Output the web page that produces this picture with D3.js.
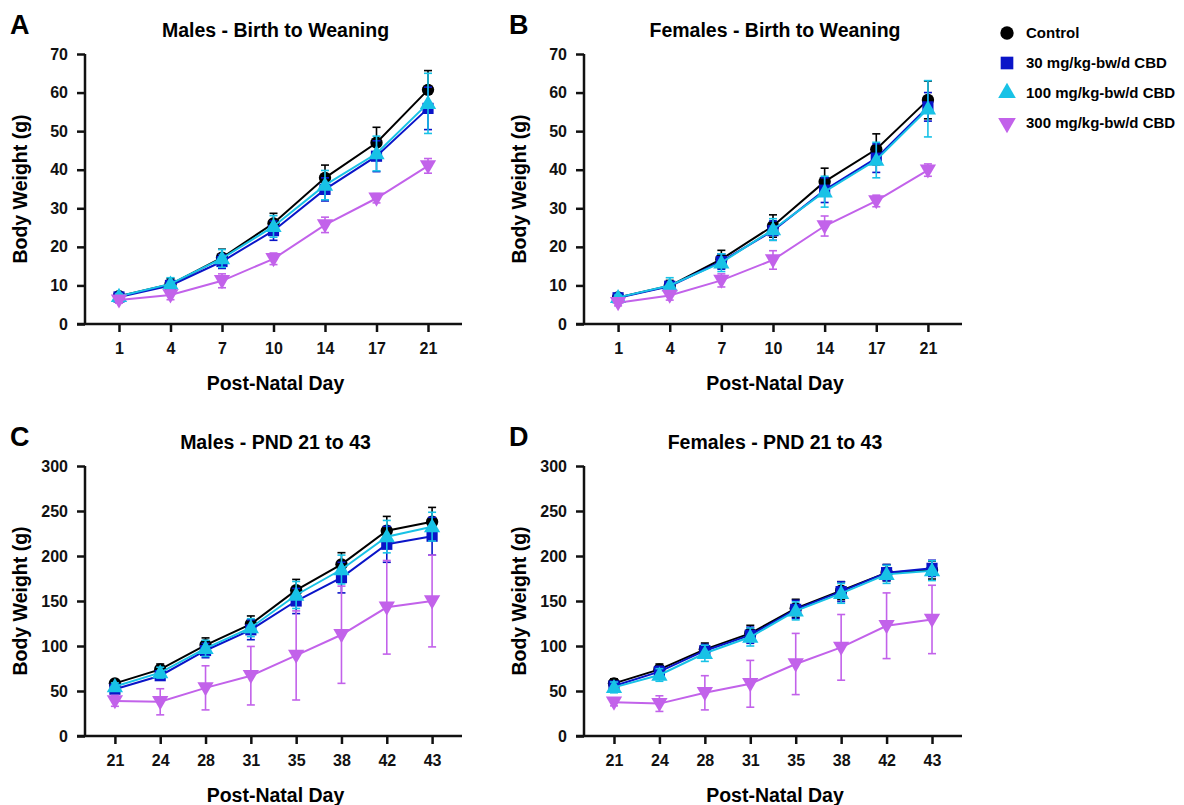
<!DOCTYPE html>
<html>
<head>
<meta charset="utf-8">
<script src="https://cdn.jsdelivr.net/npm/d3@7"></script>
<style>
  body { margin: 0; background: #fff; }
  svg { font-family: "Liberation Sans", Arial, Helvetica, sans-serif; font-weight: bold; }
  .axis path, .axis line { stroke: #111; stroke-width: 2.5; }
  .axis text { font-size: 16px; font-weight: bold; fill: #111; font-family: "Liberation Sans", Arial, sans-serif; }
</style>
</head>
<body>
<svg id="chart" width="1184" height="805"></svg>
<script>
// groups
const groups = ['Control', '30 mg/kg-bw/d CBD', '100 mg/kg-bw/d CBD', '300 mg/kg-bw/d CBD']
const colors = ['#000000', '#0a14c8', '#18c2e6', '#c262ea']

// x categories
const daysBirth = ['1', '4', '7', '10', '14', '17', '21']
const daysJuv = ['21', '24', '28', '31', '35', '38', '42', '43']

// y ticks
const ticksBirth = [0, 10, 20, 30, 40, 50, 60, 70]
const ticksJuv = [0, 50, 100, 150, 200, 250, 300]

// A - males, birth to weaning (mean, SD) ; rows = groups
const maleBirthMean = [
    [7.2, 10.3, 17.2, 26.1, 37.9, 47.0, 60.7],
    [7.0, 10.0, 16.2, 24.2, 34.9, 43.5, 55.9],
    [7.2, 10.4, 17.0, 25.3, 36.0, 44.2, 57.2],
    [6.2, 7.5, 11.2, 16.9, 25.7, 32.6, 41.0]
]
const maleBirthSd = [
    [0.6, 1.5, 2.2, 2.6, 3.3, 4.0, 5.0],
    [0.6, 1.3, 1.8, 2.5, 3.0, 4.0, 5.5],
    [0.6, 1.6, 2.3, 2.8, 3.8, 4.5, 7.8],
    [0.8, 1.2, 1.8, 1.5, 2.0, 1.2, 1.9]
]

// B - females, birth to weaning
const femaleBirthMean = [
    [6.9, 9.9, 16.8, 25.4, 36.9, 45.3, 58.1],
    [6.8, 9.8, 16.2, 24.2, 34.7, 43.0, 56.3],
    [6.9, 10.0, 15.9, 24.5, 34.3, 42.5, 55.8],
    [5.5, 7.4, 11.3, 16.6, 25.4, 31.9, 39.9]
]
const femaleBirthSd = [
    [0.6, 1.4, 2.3, 2.9, 3.5, 4.0, 4.9],
    [0.6, 1.2, 2.0, 2.5, 3.2, 3.7, 3.7],
    [0.6, 2.0, 2.3, 2.8, 4.0, 4.6, 7.3],
    [0.8, 1.2, 1.7, 2.4, 2.6, 1.5, 1.6]
]

// C - males, PND 21 to 43
const maleJuvMean = [
    [58.5, 74, 101, 124.4, 162, 190.7, 228, 238],
    [52, 67, 95, 118, 150, 176, 213, 222],
    [55, 70.4, 97.4, 120.4, 156.7, 185, 221.5, 232.6],
    [39, 38, 53.5, 67, 89.5, 112.5, 143, 150]
]
const maleJuvSd = [
    [4, 6, 8, 9, 12, 13, 16, 16],
    [4, 5, 8, 11, 14, 17, 20, 21],
    [4, 6, 9, 10, 15, 16, 18, 16],
    [6, 14.5, 24.5, 32.5, 49.5, 54, 52, 51]
]

// D - females, PND 21 to 43
const femaleJuvMean = [
    [58.5, 74, 96.3, 114, 141.9, 161.5, 181.5, 184.4],
    [55.5, 71.5, 94.8, 112, 140.7, 160.4, 181.5, 186.3],
    [54, 67.8, 91.9, 110, 139, 158.5, 179.6, 183.7],
    [37.5, 36, 48, 58, 80, 98.5, 122.5, 129.5]
]
const femaleJuvSd = [
    [5, 6, 7, 9, 10, 10, 9, 10],
    [5, 6, 7, 9, 10, 11, 9, 9],
    [6, 7, 9, 10, 10, 11, 10, 11],
    [4, 8.7, 19, 26, 34, 36.5, 36.5, 38]
]

const panels = [
    { letter: 'A', title: 'Males - Birth to Weaning', x0: 85, x1: 462, y0: 54, y1: 324, days: daysBirth, ticks: ticksBirth, mean: maleBirthMean, sd: maleBirthSd },
    { letter: 'B', title: 'Females - Birth to Weaning', x0: 584, x1: 962, y0: 54, y1: 324, days: daysBirth, ticks: ticksBirth, mean: femaleBirthMean, sd: femaleBirthSd },
    { letter: 'C', title: 'Males - PND 21 to 43', x0: 85, x1: 462, y0: 466, y1: 736, days: daysJuv, ticks: ticksJuv, mean: maleJuvMean, sd: maleJuvSd },
    { letter: 'D', title: 'Females - PND 21 to 43', x0: 584, x1: 962, y0: 466, y1: 736, days: daysJuv, ticks: ticksJuv, mean: femaleJuvMean, sd: femaleJuvSd }
]

const svg = d3.select('#chart')

const symbols = [
    d3.symbol().type(d3.symbolCircle).size(120),
    d3.symbol().type(d3.symbolSquare).size(125),
    d3.symbol().type(d3.symbolTriangle).size(115),
    d3.symbol().type(d3.symbolTriangle).size(115)
]
const legendSymbols = [
    d3.symbol().type(d3.symbolCircle).size(140),
    d3.symbol().type(d3.symbolSquare).size(160),
    d3.symbol().type(d3.symbolTriangle).size(135),
    d3.symbol().type(d3.symbolTriangle).size(135)
]
const symRot = [0, 0, 0, 180]

panels.forEach(p => {
    let xScale = d3.scalePoint()
        .domain(p.days)
        .range([p.x0, p.x1])
        .padding(0.66)

    let yScale = d3.scaleLinear()
        .domain([0, d3.max(p.ticks)])
        .range([p.y1, p.y0])

    // axes
    let yAxis = d3.axisLeft(yScale).tickValues(p.ticks).tickSize(8).tickPadding(9).tickSizeOuter(0)
    let xAxis = d3.axisBottom(xScale).tickSize(8).tickPadding(11).tickSizeOuter(0)

    svg.append('g')
        .attr('class', 'axis')
        .attr('transform', `translate(${p.x0}, 0)`)
        .call(yAxis)
        .call(g => g.select('.domain').remove())
        .call(g => g.append('line')
            .attr('stroke', '#111').attr('stroke-width', 2.5)
            .attr('y1', p.y0).attr('y2', p.y1 + 1))

    svg.append('g')
        .attr('class', 'axis')
        .attr('transform', `translate(0, ${p.y1})`)
        .call(xAxis)
        .call(g => g.select('.domain').remove())
        .call(g => g.append('line')
            .attr('stroke', '#111').attr('stroke-width', 2.5)
            .attr('x1', p.x0 - 8).attr('x2', p.x1))

    // labels
    svg.append('text')
        .attr('x', p.x0 - 75)
        .attr('y', p.y0 - 20)
        .attr('font-size', 27)
        .text(p.letter)

    svg.append('text')
        .attr('x', (p.x0 + p.x1) / 2 + 2)
        .attr('y', p.y0 - 17)
        .attr('text-anchor', 'middle')
        .attr('font-size', 19.5)
        .text(p.title)

    svg.append('text')
        .attr('transform', `translate(${p.x0 - 58}, ${(p.y0 + p.y1) / 2}) rotate(-90)`)
        .attr('text-anchor', 'middle')
        .attr('font-size', 19.5)
        .text('Body Weight (g)')

    svg.append('text')
        .attr('x', (p.x0 + p.x1) / 2 + 2)
        .attr('y', p.y1 + 66)
        .attr('text-anchor', 'middle')
        .attr('font-size', 19.5)
        .text('Post-Natal Day')

    // series
    p.mean.forEach((vals, gi) => {
        let pts = vals.map((v, i) => ({ day: p.days[i], v: v, sd: p.sd[gi][i] }))
        let g = svg.append('g')

        g.append('path')
            .datum(pts)
            .attr('fill', 'none')
            .attr('stroke', colors[gi])
            .attr('stroke-width', 2)
            .attr('d', d3.line().x(d => xScale(d.day)).y(d => yScale(d.v)))

        let eb = g.selectAll('.eb')
            .data(pts)
            .join('g')
                .attr('stroke', colors[gi])
                .attr('stroke-width', 1.6)

        eb.append('line')
            .attr('x1', d => xScale(d.day)).attr('x2', d => xScale(d.day))
            .attr('y1', d => yScale(d.v - d.sd)).attr('y2', d => yScale(d.v + d.sd))
        eb.append('line')
            .attr('x1', d => xScale(d.day) - 4).attr('x2', d => xScale(d.day) + 4)
            .attr('y1', d => yScale(d.v + d.sd)).attr('y2', d => yScale(d.v + d.sd))
        eb.append('line')
            .attr('x1', d => xScale(d.day) - 4).attr('x2', d => xScale(d.day) + 4)
            .attr('y1', d => yScale(d.v - d.sd)).attr('y2', d => yScale(d.v - d.sd))

        g.selectAll('.pt')
            .data(pts)
            .join('path')
                .attr('class', 'pt')
                .attr('fill', colors[gi])
                .attr('d', symbols[gi])
                .attr('transform', d => `translate(${xScale(d.day)}, ${yScale(d.v) + (gi === 3 ? -1 : gi === 2 ? 1 : 0)}) rotate(${symRot[gi]})`)
    })
})

// legend
const legend = svg.append('g')
groups.forEach((name, gi) => {
    let y = 33 + gi * 30
    legend.append('path')
        .attr('fill', colors[gi])
        .attr('d', legendSymbols[gi]())
        .attr('transform', `translate(1007, ${y}) rotate(${symRot[gi]})`)
    legend.append('text')
        .attr('x', 1026)
        .attr('y', y + 5)
        .attr('font-size', 15)
        .text(name)
})
</script>
</body>
</html>
